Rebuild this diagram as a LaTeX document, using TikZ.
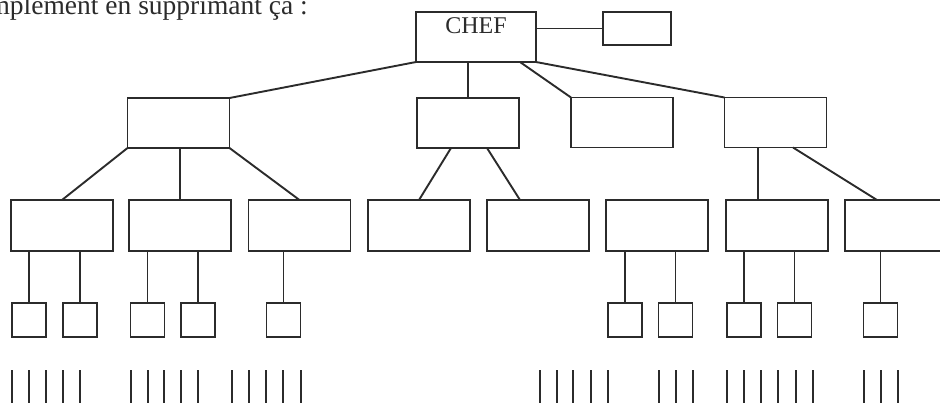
\documentclass[tikz,border=0pt]{standalone}
\usepackage{fontspec}
\setmainfont{Liberation Serif}
\usetikzlibrary{calc}
\definecolor{ink}{HTML}{2B2B2B}
\tikzset{
  box/.style={draw=ink, line width=1.9pt, rectangle, inner sep=0pt, outer sep=0pt},
  bigbox/.style={box, minimum width=102pt, minimum height=50pt},
  leaf/.style={box, minimum width=34pt, minimum height=34pt},
  link/.style={draw=ink, line width=1.9pt},
  tick/.style={draw=ink, line width=2pt},
  txt/.style={text=ink, inner sep=0pt, font=\fontsize{24}{28}\selectfont}
}
\begin{document}
\begin{tikzpicture}[x=1pt, y=-1pt]
\useasboundingbox (0,0) rectangle (940,405);
% top text (cut off at the left, as in the scan)
\node[txt, anchor=base east, font=\fontsize{27.5}{32}\selectfont] (intro) at (308,14) {simplement en supprimant ça :};
% top
\node[box, minimum width=120pt, minimum height=50pt] (chef) at (476,37) {};
\node[txt, anchor=base] (cheft) at (476,33) {CHEF};
\node[box, minimum width=68pt, minimum height=33pt] (aux) at (637,28.5) {};
% level 1
\node[bigbox] (A) at (178.5,123) {};
\node[bigbox] (B) at (468,123) {};
\node[bigbox] (C) at (622,122.5) {};
\node[bigbox] (D) at (775.5,122.5) {};
% level 2
\foreach \n/\x in {1/62,2/180,3/299.5,4/419,5/538,6/657,7/777,8/896}
  \node[bigbox, minimum height=51pt] (b\n) at (\x,225.5) {};
% level 3
\foreach \n/\x in {1/29,2/80,3/147.5,4/198,5/283.5,6/625,7/675.5,8/744,9/794.5,10/880.5}
  \node[leaf] (s\n) at (\x,320) {};
% connectors top
\draw[link] (aux.west -| chef.east) -- (aux.west);
\draw[link] (chef.south west) -- (A.north east);
\draw[link] (B.north |- chef.south) -- (B.north);
\draw[link] ([xshift=44pt]chef.south) -- (C.north west);
\draw[link] (chef.south east) -- (D.north west);
% level 1 -> level 2
\draw[link] (A.south west) -- (b1.north);
\draw[link] (b2.north |- A.south) -- (b2.north);
\draw[link] (A.south east) -- (b3.north);
\draw[link] ([xshift=-17pt]B.south) -- (b4.north);
\draw[link] ([xshift=19pt]B.south) -- ([xshift=-18pt]b5.north);
\coordinate (d1) at ($(D.south)+(-17.5,0)$);
\draw[link] (d1) -- (d1 |- b7.north);
\draw[link] ([xshift=17.5pt]D.south) -- ([xshift=-19pt]b8.north);
% level 2 -> level 3
\foreach \b/\s in {1/1,1/2,2/3,2/4,3/5,6/6,6/7,7/8,7/9,8/10}
  \draw[link] (s\s.north) -- (s\s.north |- b\b.south);
% tick marks
\foreach \x in {12,29,46,63,80,131,148,164,181,198,232,249,266,283,301,540,557,573,591,608,659,676,693,727,744,761,778,796,813,864,881,898}
  \draw[tick] (\x,370) -- (\x,403);
\end{tikzpicture}
\end{document}
